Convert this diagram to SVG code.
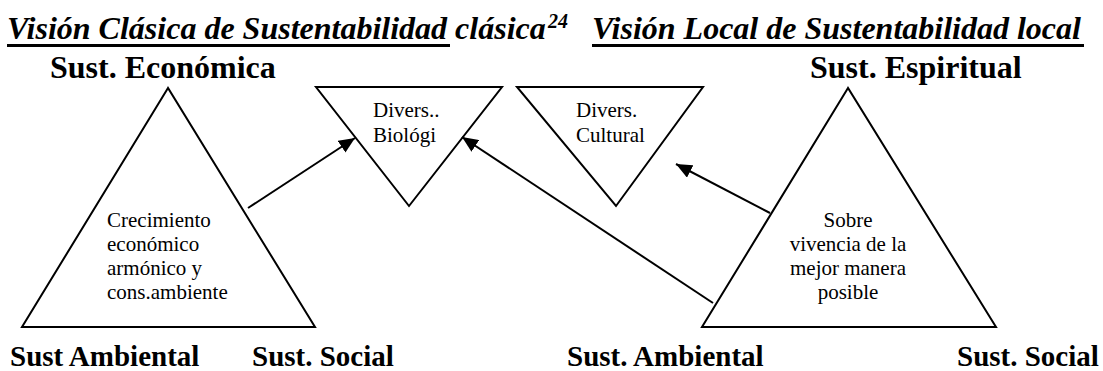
<svg xmlns="http://www.w3.org/2000/svg" width="1103" height="371" viewBox="0 0 1103 371">
<style>
.title{font-family:"Liberation Serif","Times New Roman",serif;font-weight:bold;font-style:italic;font-size:32px;fill:#000}
.sup{font-family:"Liberation Serif","Times New Roman",serif;font-weight:bold;font-style:italic;font-size:20px;fill:#000}
.lab{font-family:"Liberation Serif","Times New Roman",serif;font-weight:bold;font-size:32px;fill:#000}
.blab{font-family:"Liberation Serif","Times New Roman",serif;font-weight:bold;font-size:29px;fill:#000}
.txt{font-family:"Liberation Serif","Times New Roman",serif;font-size:21px;fill:#000}
.shape{fill:#fff;stroke:#000;stroke-width:2}
.conn{fill:none;stroke:#000;stroke-width:2}
</style>
<defs>
<marker id="ah" markerUnits="userSpaceOnUse" markerWidth="17" markerHeight="14" refX="16" refY="7" orient="auto">
<path d="M0,0 L16,7 L0,14 z" fill="#000"/>
</marker>
</defs>
<rect width="1103" height="371" fill="#fff"/>
<g id="titles">
<text class="title" x="7" y="39">Visión Clásica de Sustentabilidad clásica</text>
<text class="sup" x="548" y="28">24</text>
<rect x="7" y="44" width="443" height="3" fill="#000"/>
<text class="title" x="592" y="39">Visión Local de Sustentabilidad local</text>
<rect x="592" y="44" width="492" height="3" fill="#000"/>
</g>
<g id="labels">
<text class="lab" x="50" y="78">Sust. Económica</text>
<text class="lab" x="810" y="78">Sust. Espiritual</text>
<text class="blab" x="10" y="366">Sust Ambiental</text>
<text class="blab" x="252" y="366">Sust. Social</text>
<text class="blab" x="567" y="366">Sust. Ambiental</text>
<text class="blab" x="957" y="366">Sust. Social</text>
</g>
<g id="node-classic">
<polygon class="shape" points="168,88 22,327 315,327"/>
<text class="txt" x="107"><tspan x="107" y="227">Crecimiento</tspan><tspan x="107" y="251">económico</tspan><tspan x="107" y="275">armónico y</tspan><tspan x="107" y="299">cons.ambiente</tspan></text>
</g>
<g id="node-biologica">
<polygon class="shape" points="316,87 502,87 409,206"/>
<text class="txt" x="373"><tspan x="373" y="117">Divers..</tspan><tspan x="373" y="142">Biológi</tspan></text>
</g>
<g id="node-cultural">
<polygon class="shape" points="517,87 703,87 616,206"/>
<text class="txt" x="576"><tspan x="576" y="117">Divers.</tspan><tspan x="576" y="142">Cultural</tspan></text>
</g>
<g id="node-local">
<polygon class="shape" points="848,88 702,327 996,327"/>
<text class="txt" text-anchor="middle"><tspan x="848" y="227">Sobre</tspan><tspan x="848" y="251">vivencia de la</tspan><tspan x="848" y="275">mejor manera</tspan><tspan x="848" y="299">posible</tspan></text>
</g>
<g id="connectors">
<line class="conn" x1="248" y1="208" x2="355" y2="138" marker-end="url(#ah)"/>
<line class="conn" x1="713" y1="303" x2="462" y2="137" marker-end="url(#ah)"/>
<line class="conn" x1="770" y1="213" x2="676" y2="164" marker-end="url(#ah)"/>
</g>
</svg>
